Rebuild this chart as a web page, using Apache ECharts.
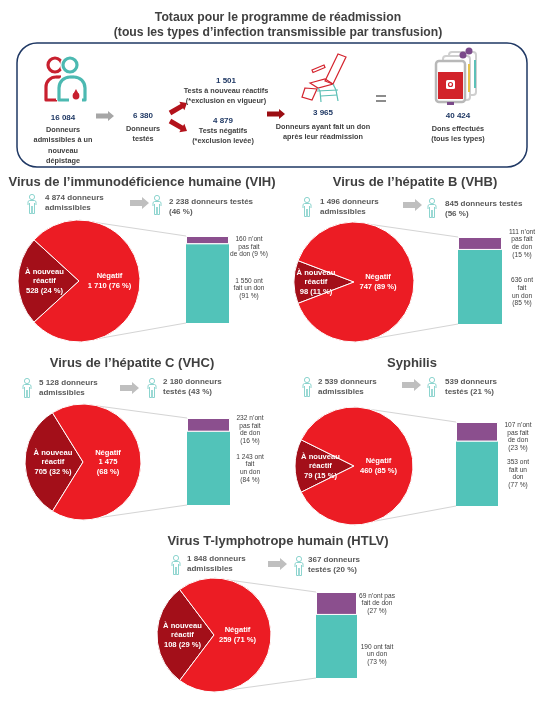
<!DOCTYPE html>
<html><head><meta charset="utf-8">
<script src="https://cdn.jsdelivr.net/npm/echarts@6/dist/echarts.min.js"></script>
<style>html,body{margin:0;padding:0;background:#fff}#c{width:555px;height:703px}</style>
</head><body><div id="c"></div>
<script>
// ---------- DATA ----------
const categories = ['VIH', 'VHB', 'VHC', 'Syphilis', 'HTLV'];
const titles = ['Virus de l’immunodéficience humaine (VIH)', 'Virus de l’hépatite B (VHB)', 'Virus de l’hépatite C (VHC)', 'Syphilis', 'Virus T-lymphotrope humain (HTLV)'];
const eligible = [4874, 1496, 5128, 2539, 1848];
const tested = [2238, 845, 2180, 539, 367];
const testedPct = [46, 56, 43, 21, 20];
const reactive = [528, 98, 705, 79, 108];
const reactivePct = [24, 11, 32, 15, 29];
const negative = [1710, 747, 1475, 460, 259];
const negativePct = [76, 89, 68, 85, 71];
const notDonated = [160, 111, 232, 107, 69];
const notDonatedPct = [9, 15, 16, 23, 27];
const donated = [1550, 636, 1243, 353, 190];
const donatedPct = [91, 85, 84, 77, 73];
const testedTpl = ['{n} donneurs testés\n({p} %)', '{n} donneurs testés\n({p} %)', '{n} donneurs\ntestés ({p} %)', '{n} donneurs\ntestés ({p} %)', '{n} donneurs\ntestés ({p} %)'];
const negBreak = [' ', ' ', '\n', ' ', ' '];
const notDonatedTpl = ['{n} n’ont\npas fait\nde don ({p} %)', '{n} n’ont\npas fait\nde don\n({p} %)', '{n} n’ont\npas fait\nde don\n({p} %)', '{n} n’ont\npas fait\nde don\n({p} %)', '{n} n’ont pas\nfait de don\n({p} %)'];
const donatedTpl = ['{n} ont\nfait un don\n({p} %)', '{n} ont\nfait\nun don\n({p} %)', '{n} ont\nfait\nun don\n({p} %)', '{n} ont\nfait un\ndon\n({p} %)', '{n} ont fait\nun don\n({p} %)'];
const mainTitle = 'Totaux pour le programme de réadmission\n(tous les types d’infection transmissible par transfusion)';
const totalsValues = [16084, 6380, 1501, 4879, 3965, 40424];
const totalsLabels = ['Donneurs\nadmissibles à un\nnouveau\ndépistage', 'Donneurs\ntestés', 'Tests à nouveau réactifs\n(*exclusion en vigueur)', 'Tests négatifs\n(*exclusion levée)', 'Donneurs ayant fait un don\naprès leur réadmission', 'Dons effectués\n(tous les types)'];

// ---------- LAYOUT / STYLE ----------
const FF = '"Liberation Sans", Arial, sans-serif';
const C = {
  title: '#404040', info: '#595959', navy: '#1f3864', dark: '#a30f19', red: '#ec1c24',
  purple: '#8b4f8e', teal: '#52c3b9', conn: '#d4d4d4', grayArrow: '#bfbfbf', person: '#7fcfc8'
};
const layout = [
  {tx: 142, ty: 182, i1: [32, 204], t1: [45, 193], ar: [130, 203], i2: [157, 205], t2: [169, 197], pie: [79, 281, 61], bar: [186, 236, 43, 87], rdx: -1, ndx: -3, pdy: 7, tdy: 5},
  {tx: 415, ty: 182, i1: [307, 207], t1: [320, 197], ar: [403, 205], i2: [432, 208], t2: [445, 199], pie: [354, 282, 60], bar: [458, 237, 44, 87], rdx: -5, ndx: -9, pdy: 0, tdy: 5},
  {tx: 132, ty: 363, i1: [27, 388], t1: [39, 378], ar: [120, 388], i2: [152, 388], t2: [163, 377], pie: [83, 462, 58], bar: [187, 418, 43, 87], rdx: 2, ndx: -7, pdy: 5, tdy: 0},
  {tx: 412, ty: 363, i1: [307, 387], t1: [318, 377], ar: [402, 385], i2: [432, 387], t2: [445, 377], pie: [354, 466, 59], bar: [456, 422, 42, 84], rdx: -1, ndx: -8, pdy: 5, tdy: 0},
  {tx: 278, ty: 541, i1: [176, 565], t1: [187, 554], ar: [268, 564], i2: [299, 566], t2: [308, 555], pie: [214, 635, 57], bar: [316, 592, 41, 86], rdx: 0, ndx: -8, pdy: 0, tdy: 8}
];
const totalsPos = [[63, 118, 125], [143, 116, 124], [226, 81, 86], [223, 121, 126], [323, 113, 122], [458, 116, 124]];

const fmt = n => String(n).replace(/\B(?=(\d{3})+(?!\d))/g, ' ');
const fill = (tpl, n, p) => tpl.replace('{n}', fmt(n)).replace('{p}', p);

function txt(x, y, text, size, weight, color, align, valign, lh) {
  return {type: 'text', x, y, silent: true, z: 10, style: {text, fontSize: size, fontWeight: weight, fontFamily: FF, fill: color,
    align, textAlign: align, verticalAlign: valign, textVerticalAlign: valign, lineHeight: lh}};
}
function arrow(x1, y1, x2, y2, bw, hw, hl, color) {
  const dx = x2 - x1, dy = y2 - y1, L = Math.hypot(dx, dy), ux = dx / L, uy = dy / L, nx = -uy, ny = ux;
  const bx = x1 + ux * (L - hl), by = y1 + uy * (L - hl);
  return {type: 'polygon', silent: true, shape: {points: [
    [x1 + nx * bw, y1 + ny * bw], [bx + nx * bw, by + ny * bw], [bx + nx * hw, by + ny * hw], [x2, y2],
    [bx - nx * hw, by - ny * hw], [bx - nx * bw, by - ny * bw], [x1 - nx * bw, y1 - ny * bw]]}, style: {fill: color}};
}
function pl(points, color, lw) {
  return {type: 'polyline', silent: true, shape: {points}, style: {fill: 'none', stroke: color, lineWidth: lw, lineJoin: 'round'}};
}
function arc(cx, cy, r, a0, a1, color, lw) {
  return {type: 'arc', silent: true, shape: {cx, cy, r, startAngle: a0 * Math.PI, endAngle: a1 * Math.PI, clockwise: true}, style: {fill: 'none', stroke: color, lineWidth: lw}};
}
function person(cx, cy, color) {
  const s = {fill: 'none', stroke: color, lineWidth: 0.9};
  return {type: 'group', silent: true, children: [
    {type: 'circle', shape: {cx, cy: cy - 7, r: 2.6}, style: s},
    {type: 'polyline', shape: {points: [[cx - 4, cy + 1], [cx - 4, cy - 2.5], [cx - 2.5, cy - 3.5], [cx + 2.5, cy - 3.5], [cx + 4, cy - 2.5], [cx + 4, cy + 1]]}, style: s},
    {type: 'polyline', shape: {points: [[cx - 2.5, cy - 1], [cx - 2.5, cy + 9.5], [cx - 0.3, cy + 9.5], [cx - 0.3, cy + 2]]}, style: s},
    {type: 'polyline', shape: {points: [[cx + 0.3, cy + 2], [cx + 0.3, cy + 9.5], [cx + 2.5, cy + 9.5], [cx + 2.5, cy - 1]]}, style: s}
  ]};
}

// ---------- GRAPHIC ----------
const g = [];
g.push(txt(278, 25, mainTitle, 12.2, 'bold', C.title, 'center', 'middle', 15.5));
g.push({type: 'rect', silent: true, shape: {x: 17, y: 43, width: 510, height: 124, r: 20}, style: {fill: 'none', stroke: C.navy, lineWidth: 1.5}});
totalsValues.forEach((v, i) => {
  const [x, y, ly] = totalsPos[i];
  g.push(txt(x, y, fmt(v), 8, 'bold', C.navy, 'center', 'middle'));
  g.push(txt(x, ly, totalsLabels[i], 7.3, 'bold', C.title, 'center', 'top', 10.2));
});
g.push(arrow(96, 116, 114, 116, 2.5, 5, 6, '#a6a6a6'));
g.push(arrow(170, 113, 187, 103, 2.5, 5, 6, '#b3121b'));
g.push(arrow(170, 121, 187, 131, 2.5, 5, 6, '#b3121b'));
g.push(arrow(267, 114, 285, 114, 2.5, 5, 6, '#9b0d12'));
g.push({type: 'rect', silent: true, shape: {x: 376, y: 95, width: 10, height: 2}, style: {fill: '#8c8c8c'}});
g.push({type: 'rect', silent: true, shape: {x: 376, y: 100, width: 10, height: 2}, style: {fill: '#8c8c8c'}});
// two people icon
const pr = '#c8202f', pt = '#4cb9b1';
g.push({type: 'circle', silent: true, shape: {cx: 55, cy: 65, r: 7}, style: {fill: 'none', stroke: pr, lineWidth: 3.2}});
g.push(pl([[57, 100], [46, 100], [46, 87]], pr, 3.2));
g.push(arc(56, 87, 10, 1, 1.5, pr, 3.2));
g.push(pl([[56, 77], [61, 77]], pr, 3.2));
g.push({type: 'circle', silent: true, shape: {cx: 70, cy: 65, r: 7}, style: {fill: 'none', stroke: '#fff', lineWidth: 6}});
g.push({type: 'circle', silent: true, shape: {cx: 70, cy: 65, r: 7}, style: {fill: 'none', stroke: pt, lineWidth: 3.2}});
g.push(pl([[59, 100], [59, 88]], '#fff', 6));
g.push(arc(70, 88, 11, 1, 1.5, '#fff', 6));
g.push(pl([[69, 100], [59, 100], [59, 88]], pt, 3.2));
g.push(arc(70, 88, 11, 1, 1.5, pt, 3.2));
g.push(pl([[70, 77], [74, 77]], pt, 3.2));
g.push(arc(74, 88, 11, 1.5, 2, pt, 3.2));
g.push(pl([[85, 88], [85, 100], [82, 100]], pt, 3.2));
g.push({type: 'circle', silent: true, shape: {cx: 76, cy: 96, r: 3.4}, style: {fill: pr}});
g.push({type: 'polygon', silent: true, shape: {points: [[76, 89], [79.2, 95], [72.8, 95]]}, style: {fill: pr}});
// chair icon
const cr = '#d4232d', ct = '#5bbfb5';
[[[325, 81], [338, 54], [346, 57], [333, 84]], [[310, 83], [325, 79], [333, 84], [318, 88]], [[305, 88], [317, 89], [312, 100], [302, 97]], [[312, 70], [324, 65], [325, 67.5], [313, 72.5]]].forEach(p => {
  g.push({type: 'polygon', silent: true, shape: {points: p}, style: {fill: 'none', stroke: cr, lineWidth: 1.2}});
});
[[[317, 91], [338, 90]], [[320, 91], [321, 102]], [[336, 90], [338, 101]], [[321, 96], [337, 95]], [[318, 88], [320, 91]], [[333, 84], [336, 90]]].forEach(p => g.push(pl(p, ct, 1.2)));
// blood bags
g.push({type: 'rect', silent: true, shape: {x: 449, y: 52, width: 27, height: 43, r: 3}, style: {fill: '#fff', stroke: '#cfcfcf', lineWidth: 2}});
g.push({type: 'rect', silent: true, shape: {x: 474, y: 60, width: 2, height: 28}, style: {fill: '#5cc0b8'}});
g.push({type: 'circle', silent: true, shape: {cx: 469, cy: 51, r: 3.5}, style: {fill: '#7b4a8a'}});
g.push({type: 'rect', silent: true, shape: {x: 443, y: 56, width: 27, height: 44, r: 3}, style: {fill: '#fff', stroke: '#cfcfcf', lineWidth: 2}});
g.push({type: 'rect', silent: true, shape: {x: 468, y: 64, width: 2, height: 28}, style: {fill: '#e6c34a'}});
g.push({type: 'circle', silent: true, shape: {cx: 463, cy: 55, r: 3.5}, style: {fill: '#7b4a8a'}});
g.push({type: 'rect', silent: true, shape: {x: 436, y: 61, width: 29, height: 41, r: 3}, style: {fill: '#fff', stroke: '#b8b8b8', lineWidth: 2.5}});
g.push({type: 'rect', silent: true, shape: {x: 438, y: 72, width: 25, height: 27}, style: {fill: '#d2232a'}});
g.push({type: 'rect', silent: true, shape: {x: 446, y: 80, width: 9, height: 9, r: 1.5}, style: {fill: '#fff'}});
g.push({type: 'circle', silent: true, shape: {cx: 450.5, cy: 84.5, r: 2}, style: {fill: 'none', stroke: '#d2232a', lineWidth: 1.2}});
g.push({type: 'rect', silent: true, shape: {x: 447, y: 102, width: 7, height: 3}, style: {fill: '#7b4a8a'}});

// panels
categories.forEach((c, i) => {
  const L = layout[i];
  g.push(txt(L.tx, L.ty, titles[i], 13, 'bold', C.title, 'center', 'middle'));
  g.push(person(L.i1[0], L.i1[1], C.person));
  g.push(person(L.i2[0], L.i2[1], C.person));
  g.push(txt(L.t1[0], L.t1[1], fmt(eligible[i]) + ' donneurs\nadmissibles', 8, 'bold', C.info, 'left', 'top', 9.8));
  g.push(txt(L.t2[0], L.t2[1], fill(testedTpl[i], tested[i], testedPct[i]), 8, 'bold', C.info, 'left', 'top', 9.8));
  g.push(arrow(L.ar[0], L.ar[1], L.ar[0] + 19, L.ar[1], 3, 6, 7, C.grayArrow));
  const [cx, cy, r] = L.pie, [bx, by, bw, bh] = L.bar;
  g.push({type: 'line', silent: true, z: 0, shape: {x1: cx, y1: cy - r, x2: bx, y2: by}, style: {stroke: C.conn, lineWidth: 1}});
  g.push({type: 'line', silent: true, z: 0, shape: {x1: cx, y1: cy + r, x2: bx, y2: by + bh}, style: {stroke: C.conn, lineWidth: 1}});
});

// ---------- SERIES ----------
const grids = [], xAxes = [], yAxes = [], series = [];
categories.forEach((c, i) => {
  const L = layout[i];
  const [cx, cy, r] = L.pie, [bx, by, bw, bh] = L.bar;
  const frac = reactive[i] / (reactive[i] + negative[i]);
  series.push({
    type: 'pie', center: [cx, cy], radius: r, startAngle: 180 + frac * 180, clockwise: true, silent: true, z: 5,
    avoidLabelOverlap: false, labelLine: {show: false},
    itemStyle: {borderColor: '#fff', borderWidth: 1},
    label: {show: true, position: 'inside', color: '#fff', fontWeight: 'bold', fontSize: 7.6, fontFamily: FF, lineHeight: 9.5, align: 'center'},
    data: [
      {value: reactive[i], name: 'À nouveau réactif', itemStyle: {color: C.dark},
        label: {offset: [L.rdx, 0], formatter: 'À nouveau\nréactif\n' + fmt(reactive[i]) + ' (' + reactivePct[i] + ' %)'}},
      {value: negative[i], name: 'Négatif', itemStyle: {color: C.red},
        label: {offset: [L.ndx, 0], formatter: 'Négatif\n' + fmt(negative[i]) + negBreak[i] + '(' + negativePct[i] + ' %)'}}
    ]
  });
  grids.push({left: bx, top: by, width: bw, height: bh, containLabel: false});
  xAxes.push({type: 'category', gridIndex: i, data: [c], show: false, boundaryGap: true});
  yAxes.push({type: 'value', gridIndex: i, min: 0, max: notDonated[i] + donated[i], show: false});
  const lab = {show: true, position: 'right', distance: 20, align: 'center', color: '#404040', fontSize: 6.6, fontFamily: FF, lineHeight: 7.6};
  series.push({type: 'bar', xAxisIndex: i, yAxisIndex: i, stack: 's' + i, barWidth: '100%', silent: true,
    itemStyle: {color: C.teal},
    label: Object.assign({}, lab, {offset: [0, L.tdy], formatter: () => fill(donatedTpl[i], donated[i], donatedPct[i])}),
    data: [donated[i]]});
  series.push({type: 'bar', xAxisIndex: i, yAxisIndex: i, stack: 's' + i, barWidth: '100%', silent: true,
    itemStyle: {color: C.purple, borderColor: '#fff', borderWidth: 1},
    label: Object.assign({}, lab, {offset: [0, L.pdy], formatter: () => fill(notDonatedTpl[i], notDonated[i], notDonatedPct[i])}),
    data: [notDonated[i]]});
});

const chart = echarts.init(document.getElementById('c'), null, {renderer: 'canvas'});
chart.setOption({
  backgroundColor: '#fff', animation: false,
  grid: grids, xAxis: xAxes, yAxis: yAxes, series, graphic: {elements: g}
});
</script></body></html>
